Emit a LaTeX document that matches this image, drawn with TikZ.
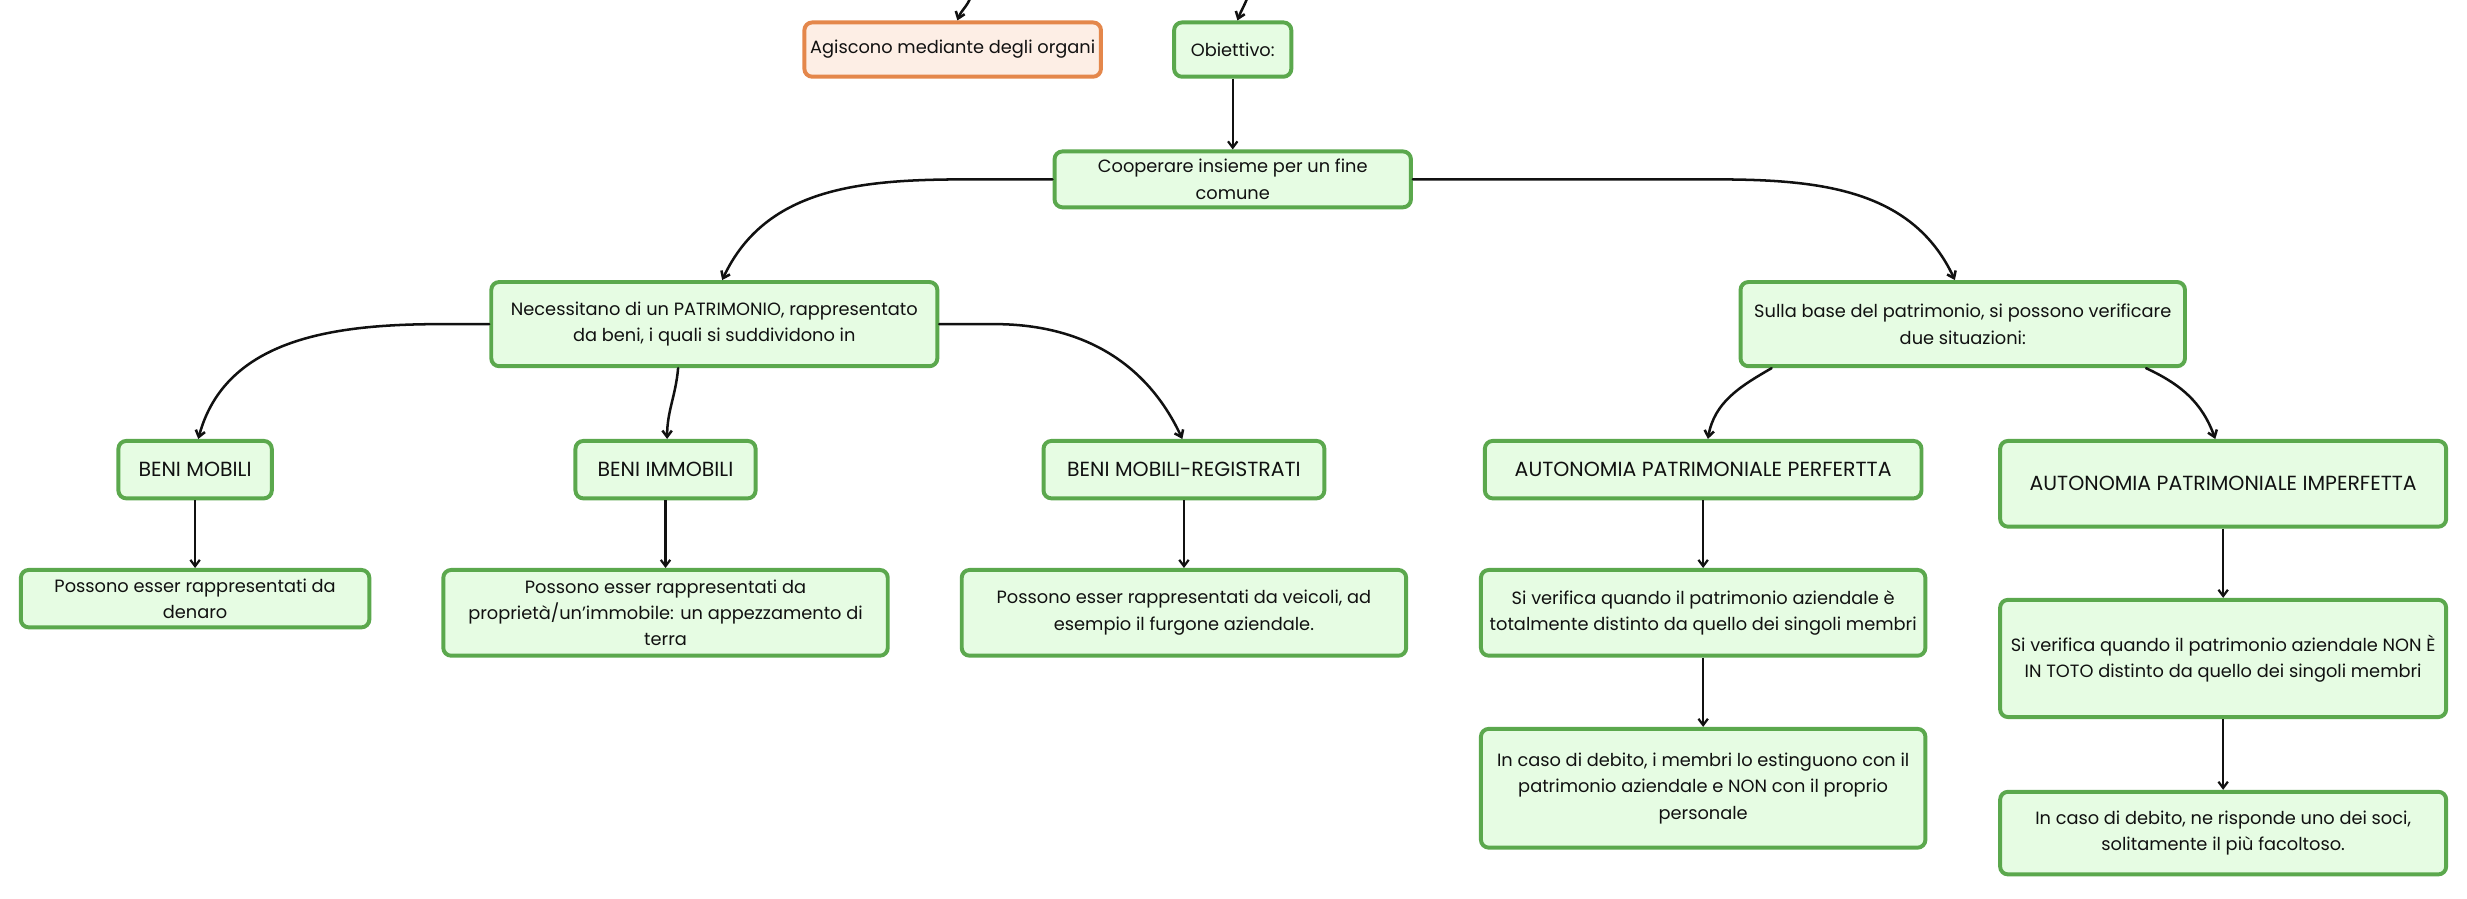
\documentclass[tikz,border=0pt]{standalone}
\usepackage{fontspec}
\setmainfont{Poppins}
\usepackage{xcolor}
\usepackage{tikz}
\usetikzlibrary{arrows.meta}
\definecolor{ink}{HTML}{111111}
\definecolor{leaf}{HTML}{5BA84D}
\definecolor{leaffill}{HTML}{E6FCE3}
\definecolor{clay}{HTML}{E4874B}
\definecolor{clayfill}{HTML}{FDEEE5}
\tikzset{
  box/.style={draw=leaf, fill=leaffill, line width=2.5pt, rounded corners=5pt, align=center, inner sep=0pt, text=ink, font=\fontsize{11.3}{16.8}\selectfont},
  capsbox/.style={box, font=\fontsize{13}{16.8}\selectfont},
  orgbox/.style={box, draw=clay, fill=clayfill},
  link/.style={draw=ink, line width=1.6pt, line cap=round, -{Straight Barb[length=4pt,width=6pt]}},
  drop/.style={draw=ink, line width=1.4pt, -{Straight Barb[length=4pt,width=6pt]}},
}

\begin{document}
\begin{tikzpicture}[x=1pt,y=1pt]
  \useasboundingbox (0,0) rectangle (1568,-571);
  % top row
  \coordinate (inA) at (617,2);
  \coordinate (inB) at (793,2);
  \node[orgbox,minimum width=188.5,minimum height=34.5] (organi) at (605.5,-31.5) {Agiscono mediante degli organi};
  \node[box,minimum width=74.5,minimum height=34.5] (obiet) at (783.5,-31.5) {Obiettivo:};
  \node[box,minimum width=226.5,minimum height=35.5] (coop) at (783.5,-114) {Cooperare insieme per un fine\\comune};
  % second row
  \node[box,minimum width=283.5,minimum height=53.5] (patr) at (454,-206) {Necessitano di un PATRIMONIO, rappresentato\\da beni, i quali si suddividono in};
  \node[box,minimum width=282.5,minimum height=53.5] (sulla) at (1247.5,-206) {Sulla base del patrimonio, si possono verificare\\due situazioni:};
  % beni
  \node[capsbox,minimum width=97.5,minimum height=36.5] (mob) at (124,-298.5) {BENI MOBILI};
  \node[capsbox,minimum width=114.5,minimum height=36.5] (immob) at (423,-298.5) {BENI IMMOBILI};
  \node[capsbox,minimum width=178.5,minimum height=36.5] (reg) at (752.5,-298.5) {BENI MOBILI-REGISTRATI};
  \node[box,minimum width=221.5,minimum height=36.5] (denaro) at (124,-380.5) {Possono esser rappresentati da\\denaro};
  \node[box,minimum width=282.5,minimum height=54.5] (terra) at (423,-389.5) {Possono esser rappresentati da\\propriet\`a/un'immobile: un appezzamento di\\terra};
  \node[box,minimum width=282.5,minimum height=54.5] (veic) at (752.5,-389.5) {Possono esser rappresentati da veicoli, ad\\esempio il furgone aziendale.};
  % autonomia
  \node[capsbox,minimum width=277.5,minimum height=36.5] (perf) at (1082.5,-298.5) {AUTONOMIA PATRIMONIALE PERFERTTA};
  \node[box,minimum width=282.5,minimum height=54.5] (siperf) at (1082.5,-389.5) {Si verifica quando il patrimonio aziendale \`e\\totalmente distinto da quello dei singoli membri};
  \node[box,minimum width=282.5,minimum height=75.5] (debperf) at (1082.5,-501) {In caso di debito, i membri lo estinguono con il\\patrimonio aziendale e NON con il proprio\\personale};
  \node[capsbox,minimum width=283.5,minimum height=54.5] (imperf) at (1413,-307.5) {AUTONOMIA PATRIMONIALE IMPERFETTA};
  \node[box,minimum width=283.5,minimum height=74.5] (siimp) at (1413,-418.5) {Si verifica quando il patrimonio aziendale NON \`E\\IN TOTO distinto da quello dei singoli membri};
  \node[box,minimum width=283.5,minimum height=52.5] (debimp) at (1413,-529.5) {In caso di debito, ne risponde uno dei soci,\\solitamente il pi\`u facoltoso.};
  % connectors
  \draw[link] (inA) to[out=-110,in=70] ([xshift=3pt]organi.north);
  \draw[link] (inB) to[out=-110,in=70] ([xshift=3pt]obiet.north);
  \draw[drop] (obiet.south) -- (coop.north);
  \draw[link] (coop.west) -- ++(-52,0) to[out=180,in=65] ([xshift=5pt]patr.north);
  \draw[link] (coop.east) -- ++(190,0) to[out=0,in=115] ([xshift=-5pt]sulla.north);
  \draw[link] (patr.west) -- ++(-30,0) to[out=180,in=75] ([xshift=2pt]mob.north);
  \draw[link] ([xshift=-23pt]patr.south) to[out=-95,in=90] ([xshift=1pt]immob.north);
  \draw[link] (patr.east) -- ++(35,0) to[out=0,in=115] ([xshift=-1pt]reg.north);
  \draw[link] ([xshift=21pt]sulla.south west) to[out=-150,in=80] ([xshift=3pt]perf.north);
  \draw[link] ([xshift=-26pt]sulla.south east) to[out=-25,in=110] ([xshift=-5pt]imperf.north);
  \draw[drop] (mob.south) -- (denaro.north);
  \draw[drop] (immob.south) -- (terra.north);
  \draw[drop] (reg.south) -- (veic.north);
  \draw[drop] (perf.south) -- (siperf.north);
  \draw[drop] (siperf.south) -- (debperf.north);
  \draw[drop] (imperf.south) -- (siimp.north);
  \draw[drop] (siimp.south) -- (debimp.north);
\end{tikzpicture}
\end{document}
